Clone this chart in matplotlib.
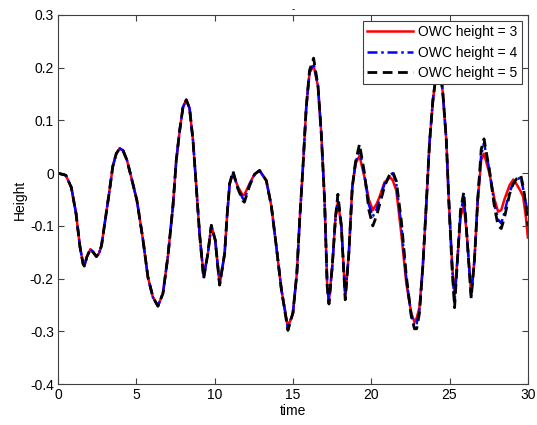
# Plot wave height at the OWC for three chamber heights.

import matplotlib.pyplot as plt

plt.rcParams['font.family'] = ['Liberation Sans', 'DejaVu Sans']
plt.rcParams['axes.unicode_minus'] = False

# -------- Data --------
time = [0.0, 0.5, 0.85, 1.15, 1.4, 1.6, 1.68, 1.85, 2.07, 2.25, 2.45, 2.62, 2.78, 2.98,
        3.26, 3.5, 3.72, 3.94, 4.15, 4.4, 4.68, 5.04, 5.43, 5.74, 6.06, 6.38, 6.7, 7.02,
        7.34, 7.55, 7.77, 7.98, 8.19, 8.4, 8.62, 8.83, 9.04, 9.3, 9.57, 9.79, 10.04, 10.32,
        10.64, 10.79, 10.96, 11.17, 11.49, 11.8, 11.9, 12.23, 12.55, 12.87, 13.3, 13.62, 13.94,
        14.26, 14.68, 15.0, 15.25, 15.43, 15.64, 15.85, 16.06, 16.32, 16.6, 16.81, 17.02,
        17.19, 17.3, 17.51, 17.72, 17.87, 18.09, 18.34, 18.57, 18.79, 19.0, 19.25, 19.57,
        19.85, 20.1, 20.35, 20.53, 20.85, 21.21, 21.38, 21.6, 21.92, 22.24, 22.56, 22.76,
        22.9, 23.08, 23.29, 23.51, 23.72, 23.94, 24.1, 24.35, 24.57, 24.79, 24.95, 25.17,
        25.32, 25.53, 25.7, 25.91, 26.1, 26.38, 26.59, 26.8, 27.02, 27.2, 27.55, 27.87,
        28.1, 28.3, 28.5, 28.83, 29.07, 29.3, 29.55, 29.7, 29.88, 30.0]

h3 = [0.0, -0.004, -0.027, -0.076, -0.139, -0.172, -0.176, -0.158, -0.144, -0.15, -0.158, -0.152, -0.137, -0.096,
      -0.039, 0.013, 0.037, 0.047, 0.043, 0.025, -0.008, -0.052, -0.127, -0.197, -0.235, -0.252, -0.228, -0.157,
      -0.062, 0.024, 0.081, 0.125, 0.139, 0.123, 0.062, -0.026, -0.115, -0.195, -0.152, -0.099, -0.127, -0.212,
      -0.152, -0.083, -0.02, -0.001, -0.026, -0.042, -0.041, -0.02, -0.002, 0.005, -0.014, -0.062, -0.139,
      -0.22, -0.292, -0.265, -0.19, -0.089, 0.012, 0.125, 0.19, 0.204, 0.165, 0.075, -0.051,
      -0.215, -0.243, -0.177, -0.083, -0.054, -0.1, -0.233, -0.152, -0.026, 0.018, 0.033, -0.008,
      -0.05, -0.07, -0.058, -0.045, -0.017, -0.008, -0.014, -0.033, -0.115, -0.209, -0.266, -0.282,
      -0.275, -0.254, -0.178, -0.062, 0.057, 0.139, 0.177, 0.21, 0.152, 0.064, -0.05, -0.176,
      -0.233, -0.152, -0.083, -0.061, -0.115, -0.23, -0.164, -0.05, 0.025, 0.037, -0.001, -0.05,
      -0.073, -0.07, -0.05, -0.023, -0.012, -0.022, -0.035, -0.045, -0.085, -0.122]

h4 = [0.0, -0.004, -0.027, -0.076, -0.139, -0.172, -0.176, -0.158, -0.144, -0.15, -0.158, -0.152, -0.137, -0.096,
      -0.039, 0.013, 0.037, 0.047, 0.043, 0.025, -0.008, -0.052, -0.127, -0.197, -0.235, -0.252, -0.228, -0.157,
      -0.062, 0.024, 0.081, 0.125, 0.139, 0.123, 0.062, -0.026, -0.115, -0.198, -0.152, -0.099, -0.127, -0.212,
      -0.152, -0.083, -0.02, 0.001, -0.028, -0.048, -0.05, -0.022, -0.002, 0.005, -0.014, -0.062, -0.139,
      -0.22, -0.295, -0.265, -0.19, -0.089, 0.012, 0.125, 0.192, 0.208, 0.165, 0.075, -0.051,
      -0.215, -0.245, -0.177, -0.083, -0.048, -0.1, -0.236, -0.152, -0.026, 0.02, 0.045, -0.005,
      -0.06, -0.082, -0.068, -0.05, -0.02, -0.003, 0.0, -0.02, -0.1, -0.2, -0.27, -0.29,
      -0.285, -0.26, -0.178, -0.062, 0.057, 0.139, 0.177, 0.21, 0.152, 0.064, -0.05, -0.18,
      -0.245, -0.152, -0.075, -0.045, -0.115, -0.233, -0.164, -0.05, 0.035, 0.057, 0.005, -0.06,
      -0.088, -0.095, -0.075, -0.035, -0.02, -0.012, -0.008, -0.03, -0.058, -0.078]

h5 = [0.0, -0.004, -0.027, -0.076, -0.139, -0.172, -0.176, -0.158, -0.144, -0.15, -0.158, -0.152, -0.137, -0.096,
      -0.039, 0.013, 0.037, 0.047, 0.043, 0.025, -0.008, -0.052, -0.127, -0.197, -0.235, -0.252, -0.228, -0.157,
      -0.062, 0.024, 0.081, 0.125, 0.139, 0.123, 0.062, -0.026, -0.115, -0.2, -0.152, -0.099, -0.127, -0.212,
      -0.152, -0.083, -0.02, 0.004, -0.03, -0.052, -0.055, -0.024, -0.002, 0.005, -0.014, -0.062, -0.139,
      -0.22, -0.298, -0.265, -0.19, -0.089, 0.012, 0.125, 0.195, 0.218, 0.165, 0.075, -0.051,
      -0.215, -0.248, -0.177, -0.083, -0.04, -0.1, -0.24, -0.152, -0.026, 0.022, 0.055, 0.0,
      -0.07, -0.1, -0.08, -0.06, -0.025, 0.0, 0.002, -0.015, -0.09, -0.195, -0.272, -0.295,
      -0.295, -0.265, -0.178, -0.062, 0.057, 0.139, 0.177, 0.21, 0.152, 0.064, -0.05, -0.185,
      -0.255, -0.152, -0.07, -0.036, -0.115, -0.237, -0.164, -0.05, 0.045, 0.065, 0.005, -0.065,
      -0.1, -0.105, -0.085, -0.04, -0.02, -0.01, -0.004, -0.025, -0.062, -0.1]

labels = ["OWC height = 3", "OWC height = 4", "OWC height = 5"]

# -------- Plot --------
fig = plt.figure(figsize=(5.37, 4.25), dpi=100)
ax = fig.add_axes([0.108, 0.096, 0.875, 0.869])

ax.plot(time, h3, color='#ff0000', lw=1.8, label=labels[0])
ax.plot(time, h4, color='#0000ff', lw=1.8, dashes=(4, 1.5, 1, 1.5), label=labels[1])
ax.plot(time, h5, color='black', lw=2.0, dashes=(3.5, 2), label=labels[2])

ax.set_xlim(0, 30)
ax.set_ylim(-0.4, 0.3)
ax.set_xticks([0, 5, 10, 15, 20, 25, 30])
ax.set_yticks([-0.4, -0.3, -0.2, -0.1, 0, 0.1, 0.2, 0.3])
ax.set_yticklabels(['-0.4', '-0.3', '-0.2', '-0.1', '0', '0.1', '0.2', '0.3'])

ax.tick_params(direction='in', length=4, top=True, right=True, labelsize=10,
               color='#404040', pad=3)
for s in ax.spines.values():
    s.set_color('#404040')

ax.set_xlabel("time", fontsize=10, labelpad=1)
ax.set_ylabel("Height", fontsize=10, labelpad=2)
ax.set_title("-", fontsize=7, pad=2)

leg = ax.legend(loc='upper right', fontsize=10, handlelength=3.3, fancybox=False,
                framealpha=1, edgecolor='#404040', borderaxespad=0.45,
                borderpad=0.3, handletextpad=0.4, labelspacing=0.45)
leg.get_frame().set_linewidth(0.8)

plt.savefig("out.png", dpi=100)
